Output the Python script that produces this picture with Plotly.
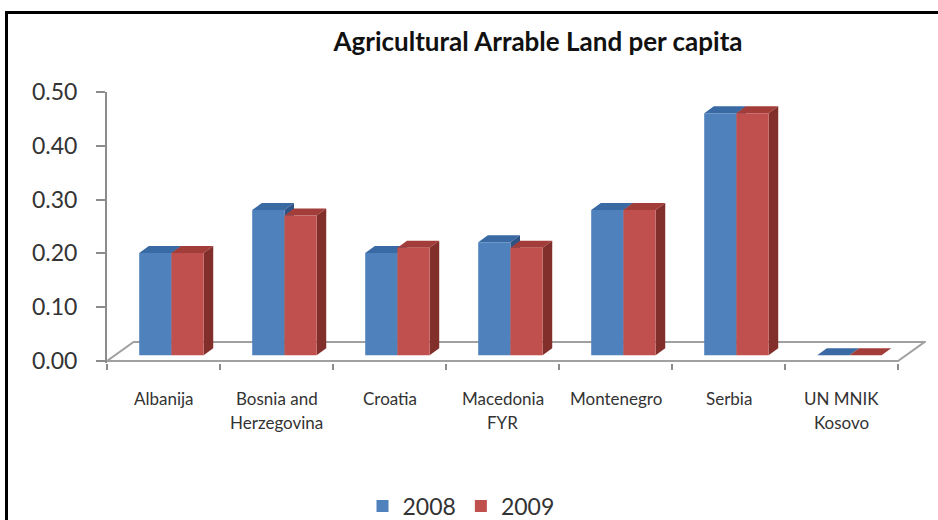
import plotly.graph_objects as go

# ---- data ----
categories = ["Albanija", "Bosnia and Herzegovina", "Croatia", "Macedonia FYR",
              "Montenegro", "Serbia", "UN MNIK Kosovo"]
label_lines = [["Albanija"], ["Bosnia and", "Herzegovina"], ["Croatia"],
               ["Macedonia", "FYR"], ["Montenegro"], ["Serbia"], ["UN MNIK", "Kosovo"]]
values_2008 = [0.19, 0.27, 0.19, 0.21, 0.27, 0.45, 0.00]
values_2009 = [0.19, 0.26, 0.20, 0.20, 0.27, 0.45, 0.00]
series_names = ["2008", "2009"]
y_ticks = [0.0, 0.1, 0.2, 0.3, 0.4, 0.5]

# ---- styling / pseudo-3D geometry (in axis units) ----
FONT = "Lato"
W = 0.285                  # bar width (category units)
OX0, OY0 = 0.07, 0.0106    # front-face offset from floor front edge
DXB, DYB = 0.085, 0.013    # bar depth projection
FDX, FDY = 0.235, 0.0353   # floor depth projection
front_cols = ["#4F81BD", "#C0504D"]
top_cols = ["#3A6AA3", "#A33D3A"]
side_cols = ["#2E5486", "#822E2B"]

OFF = 0                    # body margin removed by post_script
W_PX, H_PX = 938 - OFF, 520 - OFF
ML, MT = 107 - OFF, 92 - OFF
MR = W_PX - (926 - OFF)
MB = H_PX - (363 - OFF)
PX_PER_CAT = 113.0
x_range = [-0.5, -0.5 + (W_PX - ML - MR) / PX_PER_CAT]
y_range = [0.5 - (H_PX - MT - MB) / 538.0, 0.5]

idx = list(range(len(categories)))
fig = go.Figure()

series = [values_2008, values_2009]
offsets = [-W + OX0, OX0]
for s, vals in enumerate(series):
    fig.add_trace(go.Bar(
        x=idx, y=vals, base=[OY0] * len(vals), width=W, offset=offsets[s],
        name=series_names[s], marker=dict(color=front_cols[s], line=dict(width=0)),
        hovertext=categories, showlegend=True))

shapes = []
# floor
n = len(idx)
shapes.append(dict(type="path", xref="x", yref="y", layer="below",
                   path=f"M {-0.5},{0} L {n-0.5},{0} L {n-0.5+FDX},{FDY} L {-0.5+FDX},{FDY} Z",
                   fillcolor="white", line=dict(color="#A0A0A0", width=2)))


def bar_faces(s, vals):
    out = []
    for i, v in zip(idx, vals):
        L = i + offsets[s]
        R = L + W
        T = OY0 + v
        out.append(dict(type="path", xref="x", yref="y", layer="below",
                        path=f"M {L},{T} L {R},{T} L {R+DXB},{T+DYB} L {L+DXB},{T+DYB} Z",
                        fillcolor=top_cols[s], line=dict(width=0)))
        out.append(dict(type="path", xref="x", yref="y", layer="below",
                        path=f"M {R},{T} L {R+DXB},{T+DYB} L {R+DXB},{OY0+DYB} L {R},{OY0} Z",
                        fillcolor=side_cols[s], line=dict(width=0)))
    return out


shapes += bar_faces(0, values_2008)
shapes += bar_faces(1, values_2009)


# outer frame (left and top edges visible), given in page pixels
def px_to_paper_x(px):
    return (px - OFF - ML) / (W_PX - ML - MR)


def px_to_paper_y(py):
    return (H_PX - MB - (py - OFF)) / (H_PX - MT - MB)


shapes.append(dict(type="line", xref="paper", yref="paper",
                   x0=px_to_paper_x(6.5), x1=px_to_paper_x(6.5),
                   y0=px_to_paper_y(11), y1=px_to_paper_y(530),
                   line=dict(color="black", width=3)))
shapes.append(dict(type="line", xref="paper", yref="paper",
                   x0=px_to_paper_x(5), x1=px_to_paper_x(950),
                   y0=px_to_paper_y(12.5), y1=px_to_paper_y(12.5),
                   line=dict(color="black", width=3)))

annotations = []
for i, lines in zip(idx, label_lines):
    for k, line in enumerate(lines):
        annotations.append(dict(x=i, y=0, xref="x", yref="y", text=line, showarrow=False,
                                yanchor="middle", xanchor="center", yshift=-37 - 24 * k,
                                font=dict(family=FONT, size=17, color="#333333")))

fig.update_layout(
    width=W_PX, height=H_PX,
    margin=dict(l=ML, r=MR, t=MT, b=MB, autoexpand=False),
    paper_bgcolor="white", plot_bgcolor="rgba(0,0,0,0)",
    barmode="overlay",
    title=dict(text="<b>Agricultural Arrable Land per capita</b>", xref="container", yref="container",
               x=(538 - OFF) / W_PX, xanchor="center", y=1 - (42 - OFF) / H_PX, yanchor="middle",
               font=dict(family=FONT, size=26, color="#111111")),
    xaxis=dict(range=x_range, showgrid=False, zeroline=False, showline=False,
               tickvals=[i - 0.5 for i in range(n + 1)], ticks="outside", ticklen=6,
               tickcolor="#8C8C8C", tickwidth=2, showticklabels=False, fixedrange=True),
    yaxis=dict(range=y_range, showgrid=False, zeroline=False, showline=True,
               linecolor="#8C8C8C", linewidth=2, tickvals=y_ticks, tickformat=".2f",
               ticks="outside", ticklen=9, tickcolor="#8C8C8C", tickwidth=2,
               ticklabelstandoff=14,
               tickfont=dict(family=FONT, size=23, color="#333333"), fixedrange=True),
    legend=dict(orientation="h", xref="container", yref="container",
                x=(461 - OFF) / W_PX, xanchor="center", y=1 - (506 - OFF) / H_PX, yanchor="middle",
                font=dict(family=FONT, size=23, color="#333333"), itemwidth=30,
                bgcolor="rgba(0,0,0,0)"),
    shapes=shapes, annotations=annotations, showlegend=True,
)

fig.write_html("out.html", config={"displayModeBar": False},
               post_script="document.body.style.margin='0';document.body.style.overflow='hidden';")
